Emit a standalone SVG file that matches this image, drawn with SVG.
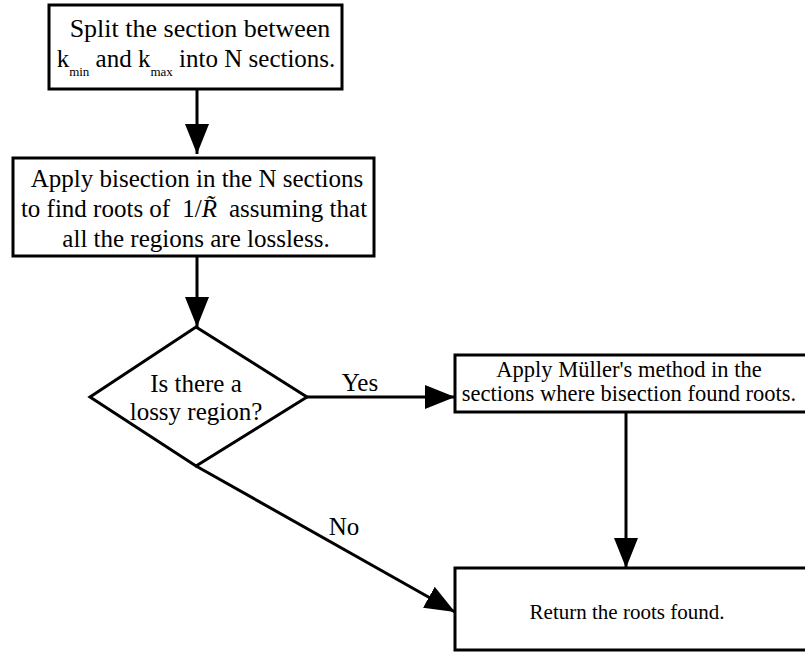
<svg xmlns="http://www.w3.org/2000/svg" width="805" height="653" viewBox="0 0 805 653">
<style>
text{font-family:"Liberation Serif","Times New Roman",serif;fill:#000;text-anchor:middle}
.box{fill:#fff;stroke:#000;stroke-width:3}
.t25{font-size:25px}
.t26{font-size:26px}
.t23{font-size:22.5px}
.t21{font-size:21px}
.sub{font-size:13px}
.conn{stroke:#000;stroke-width:3;fill:none}
</style>
<defs>
<marker id="ah" markerUnits="userSpaceOnUse" markerWidth="32" markerHeight="24" refX="30" refY="12" orient="auto">
<path d="M0,0 L30,12 L0,24 Z" fill="#000"/>
</marker>
</defs>
<rect width="805" height="653" fill="#fff"/>
<g id="connectors">
<line class="conn" x1="197" y1="89" x2="197" y2="154" marker-end="url(#ah)"/>
<line class="conn" x1="197" y1="257" x2="197" y2="327" marker-end="url(#ah)"/>
<line class="conn" x1="307" y1="397" x2="455" y2="397" marker-end="url(#ah)"/>
<line class="conn" x1="626" y1="412" x2="626" y2="568" marker-end="url(#ah)"/>
<line class="conn" x1="196" y1="466" x2="455" y2="612" marker-end="url(#ah)"/>
<text class="t25" x="360" y="391">Yes</text>
<text class="t25" x="344" y="535">No</text>
</g>
<g id="split">
<rect class="box" x="49" y="5" width="293" height="84"/>
<text class="t26" x="200" y="37">Split the section between</text>
<text class="t25" x="196" y="67">k<tspan class="sub" dy="9">min</tspan><tspan dy="-9"> and k</tspan><tspan class="sub" dy="9">max</tspan><tspan dy="-9"> into N sections.</tspan></text>
</g>
<g id="bisection">
<rect class="box" x="13" y="158" width="361" height="98"/>
<text class="t25" x="197" y="187">Apply bisection in the N sections</text>
<text class="t25" x="194" y="217">to find roots of<tspan dx="12">1/</tspan><tspan font-style="italic">R̃</tspan><tspan dx="12">assuming that</tspan></text>
<text class="t25" x="196" y="247">all the regions are lossless.</text>
</g>
<g id="decision">
<polygon points="196,327 307,397 196,466 90,397" fill="#fff" stroke="#000" stroke-width="3"/>
<text class="t25" x="196" y="392">Is there a</text>
<text class="t25" x="196" y="420">lossy region?</text>
</g>
<g id="muller">
<rect class="box" x="455" y="355" width="360" height="57"/>
<text class="t23" x="629" y="377">Apply Müller's method in the</text>
<text class="t23" x="629" y="401">sections where bisection found roots.</text>
</g>
<g id="return">
<rect class="box" x="455" y="568" width="360" height="82"/>
<text class="t21" x="627" y="619">Return the roots found.</text>
</g>
</svg>
